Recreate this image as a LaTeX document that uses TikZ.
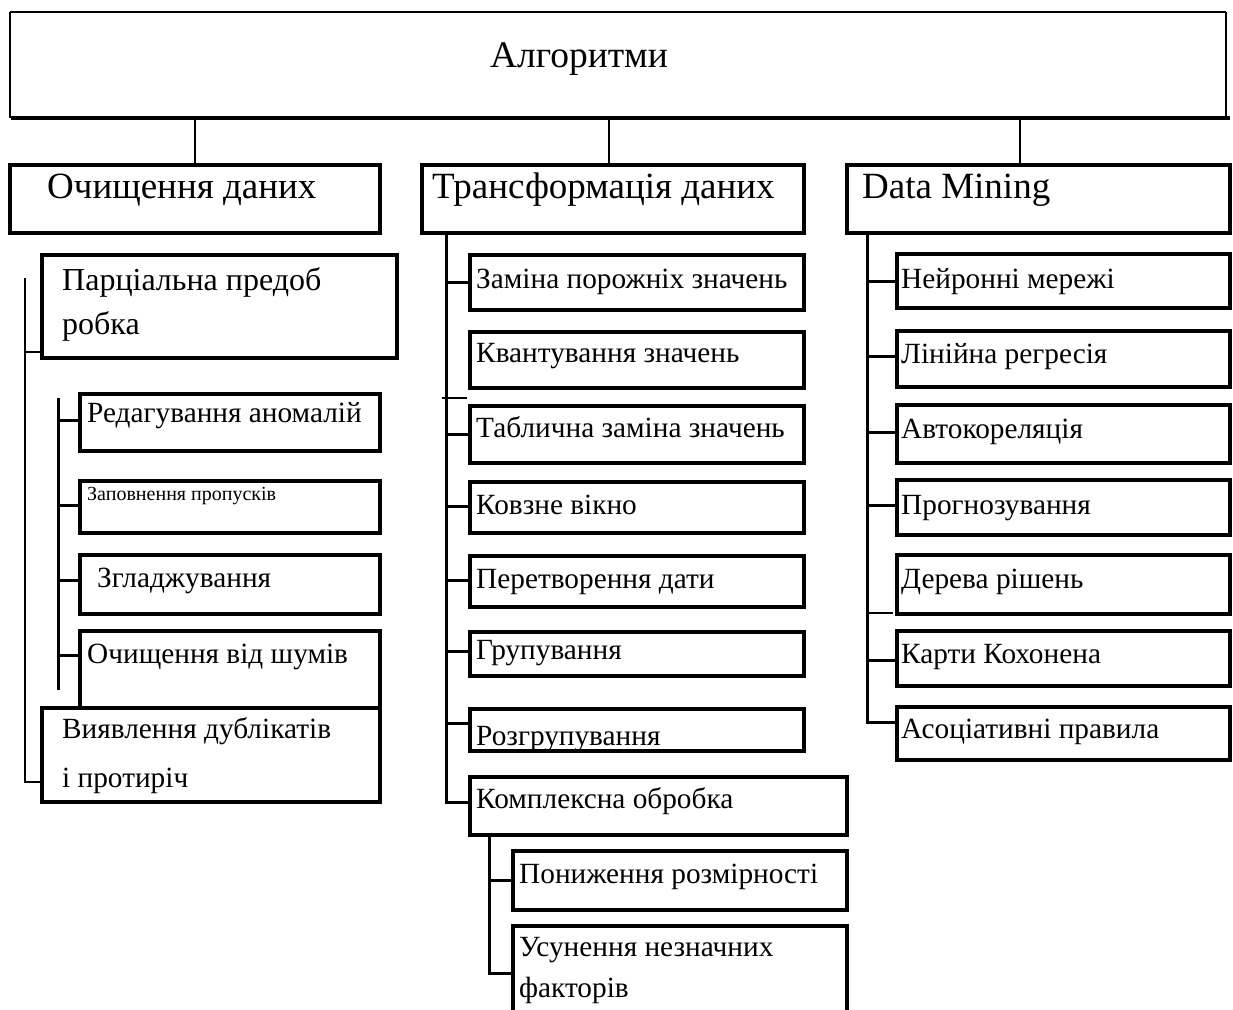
\documentclass[tikz,border=0pt]{standalone}
\usepackage{fontspec}
\setmainfont{Liberation Serif}
\usetikzlibrary{fit,calc}

% a rectangle given by its two corners
\newcommand\cell[5]{\node[box, fit={(#2,#3) (#4,#5)}] (#1) {};}

\begin{document}
\begin{tikzpicture}[x=1pt, y=-1pt,
  box/.style={draw, line width=3.2pt, rectangle, inner sep=0pt, outer sep=0pt},
  link/.style={line width=3pt},
  thinlink/.style={line width=1.2pt},
  lbl/.style={anchor=base west, inner sep=0pt, font=\fontsize{29.3}{34}\selectfont},
  biglbl/.style={anchor=base west, inner sep=0pt, font=\fontsize{32}{36}\selectfont},
  headlbl/.style={anchor=base west, inner sep=0pt, font=\fontsize{37}{42}\selectfont},
  smalllbl/.style={anchor=base west, inner sep=0pt, font=\fontsize{20}{24}\selectfont}]

\useasboundingbox (0,0) rectangle (1233,1009);

% ---- root ----
\node[fit={(10,12) (1226,118)}, inner sep=0pt, outer sep=0pt] (alg) {};
\draw[line width=1.4pt] (alg.south west) -- (alg.north west);
\draw[line width=2.4pt] (alg.north west) -- (alg.north east);
\draw[line width=2.4pt] (alg.north east) -- (alg.south east);
\draw[line width=3.8pt] ($(alg.south west)+(1,0)$) -- ($(alg.south east)+(4,0)$);
\node[anchor=base, inner sep=0pt, font=\fontsize{37.5}{42}\selectfont] (t-alg) at (579,67) {Алгоритми};

% ---- second level ----
\cell{oc}{10}{165}{380}{233}
\cell{tr}{422}{165}{804}{233}
\cell{dm}{847}{165}{1230}{233}
\node[headlbl] (t-oc) at (47,198) {Очищення даних};
\node[headlbl] (t-tr) at (432,198) {Трансформація даних};
\node[headlbl] (t-dm) at (862,198) {Data Mining};

\draw[line width=2.6pt] (oc.north -| 195,0) -- (alg.south -| 195,0);
\draw[line width=2.6pt] (tr.north -| 609,0) -- (alg.south -| 609,0);
\draw[line width=2.6pt] (dm.north -| 1020,0) -- (alg.south -| 1020,0);

% ---- data cleaning ----
\cell{parc}{42}{255}{397}{358}
\cell{edit}{80}{394}{380}{451}
\cell{fill}{80}{481}{380}{533}
\cell{smooth}{80}{555}{380}{614}
\cell{noise}{80}{631}{380}{708}
\cell{dup}{42}{708}{380}{802}
\node[biglbl] (t-parc1) at (62,290) {Парціальна предоб};
\node[biglbl] (t-parc2) at (62,334) {робка};
\node[lbl] (t-edit) at (87,422) {Редагування аномалій};
\node[smalllbl] (t-fill) at (87,500) {Заповнення пропусків};
\node[lbl] (t-smooth) at (97,587) {Згладжування};
\node[lbl] (t-noise) at (87,663) {Очищення від шумів};
\node[lbl] (t-dup1) at (62,738) {Виявлення дублікатів};
\node[lbl] (t-dup2) at (62,787) {і протиріч};

\coordinate (ltop) at (25,278);
\draw[thinlink] (ltop) |- ($(dup.west)+(0,27)$);
\draw[thinlink] (ltop |- 0,352) -- (parc.west |- 0,352);
\coordinate (itop) at (58,398);
\draw[link] (itop) -- (58,690);
\draw[link] (58,420) -- (edit.west |- 0,420);
\draw[link] (58,505) -- (fill.west |- 0,505);
\draw[link] (58,580) -- (smooth.west |- 0,580);
\draw[link] (58,655) -- (noise.west |- 0,655);

% ---- data transformation ----
\cell{m1}{470}{255}{804}{310}
\cell{m2}{470}{332}{804}{388}
\cell{m3}{470}{406}{804}{463}
\cell{m4}{470}{482}{804}{533}
\cell{m5}{470}{556}{804}{607}
\cell{m6}{470}{632}{804}{676}
\cell{m7}{470}{709}{804}{751}
\cell{m8}{470}{777}{847}{835}
\cell{m9}{513}{851}{847}{910}
\cell{m10}{513}{926}{847}{1040}
\node[lbl] (t-m1) at (476,288) {Заміна порожніх значень};
\node[lbl] (t-m2) at (476,362) {Квантування значень};
\node[lbl] (t-m3) at (476,437) {Таблична заміна значень};
\node[lbl] (t-m4) at (476,514) {Ковзне вікно};
\node[lbl] (t-m5) at (476,588) {Перетворення дати};
\node[lbl] (t-m6) at (476,659) {Групування};
\node[lbl] (t-m7) at (476,745) {Розгрупування};
\node[lbl] (t-m8) at (476,808) {Комплексна обробка};
\node[lbl] (t-m9) at (519,883) {Пониження розмірності};
\node[lbl] (t-m10a) at (519,956) {Усунення незначних};
\node[lbl] (t-m10b) at (519,997) {факторів};

\coordinate (mtop) at (446,233);
\draw[link] (mtop) |- ($(m8.west)+(0,-4)$);
\draw[link] (mtop |- m1.west) -- (m1.west);
\draw[thinlink] (442,398) -- (467,398);
\draw[link] (mtop |- m3.west) -- (m3.west);
\draw[link] (mtop |- 0,506) -- (m4.west |- 0,506);
\draw[link] (mtop |- 0,580) -- (m5.west |- 0,580);
\draw[link] (mtop |- 0,651) -- (m6.west |- 0,651);
\draw[link] (mtop |- 0,723) -- (m7.west |- 0,723);
\coordinate (stop) at (489,835);
\draw[link] (stop) |- (m10.west |- 0,973);
\draw[link] (stop |- m9.west) -- (m9.west);

% ---- data mining ----
\cell{r1}{897}{254}{1230}{308}
\cell{r2}{897}{331}{1230}{387}
\cell{r3}{897}{405}{1230}{463}
\cell{r4}{897}{480}{1230}{535}
\cell{r5}{897}{555}{1230}{614}
\cell{r6}{897}{631}{1230}{686}
\cell{r7}{897}{707}{1230}{760}
\node[lbl] (t-r1) at (901,288) {Нейронні мережі};
\node[lbl] (t-r2) at (901,363) {Лінійна регресія};
\node[lbl] (t-r3) at (901,438) {Автокореляція};
\node[lbl] (t-r4) at (901,514) {Прогнозування};
\node[lbl] (t-r5) at (901,588) {Дерева рішень};
\node[lbl] (t-r6) at (901,663) {Карти Кохонена};
\node[lbl] (t-r7) at (901,738) {Асоціативні правила};

\coordinate (rtop) at (867,233);
\draw[link] (rtop) |- (r7.west |- 0,722);
\draw[link] (rtop |- r1.west) -- (r1.west);
\draw[link] (rtop |- 0,356) -- (r2.west |- 0,356);
\draw[link] (rtop |- 0,432) -- (r3.west |- 0,432);
\draw[link] (rtop |- 0,505) -- (r4.west |- 0,505);
\draw[thinlink] (866,613) -- (893,613);
\draw[link] (rtop |- 0,660) -- (r6.west |- 0,660);
\end{tikzpicture}
\end{document}
